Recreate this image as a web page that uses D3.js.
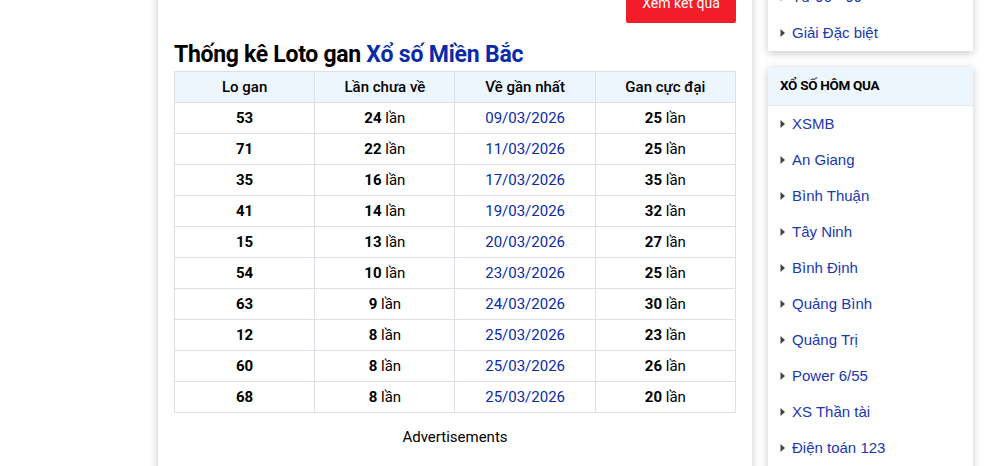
<!DOCTYPE html>
<html lang="en">
<head>
<meta charset="utf-8">
<title>Thống kê Loto gan</title>
<script src="https://cdn.jsdelivr.net/npm/d3@7"></script>
<style>
  html, body { margin: 0; padding: 0; background: #fff; overflow: hidden; }
  text { font-family: Roboto, sans-serif; }
</style>
</head>
<body>
<script>
// table data
var headers = ["Lo gan", "Lần chưa về", "Về gần nhất", "Gan cực đại"];
var loGan = ["53", "71", "35", "41", "15", "54", "63", "12", "60", "68"];
var lanChuaVe = [24, 22, 16, 14, 13, 10, 9, 8, 8, 8];
var veGanNhat = ["09/03/2026", "11/03/2026", "17/03/2026", "19/03/2026", "20/03/2026",
                 "23/03/2026", "24/03/2026", "25/03/2026", "25/03/2026", "25/03/2026"];
var ganCucDai = [25, 25, 35, 32, 27, 25, 30, 23, 26, 20];

// sidebar data
var menuTop = ["Từ 90 - 99", "Giải Đặc biệt"];
var menuTitle = "XỔ SỐ HÔM QUA";
var menuLinks = ["XSMB", "An Giang", "Bình Thuận", "Tây Ninh", "Bình Định",
                 "Quảng Bình", "Quảng Trị", "Power 6/55", "XS Thần tài", "Điện toán 123"];

var width = 990, height = 466;
var blue = "#0a2aa8", linkBlue = "#1a38b0", line = "#dcdfe6";

var svg = d3.select("body").append("svg")
    .attr("width", width).attr("height", height)
    .style("display", "block");

var defs = svg.append("defs");
var shadow = defs.append("filter").attr("id", "shadow")
    .attr("x", "-10%").attr("y", "-10%").attr("width", "120%").attr("height", "120%");
shadow.append("feDropShadow").attr("dx", 0).attr("dy", 2).attr("stdDeviation", 4)
    .attr("flood-color", "#000").attr("flood-opacity", 0.22);

// white panels
function panel(x, y, w, h) {
    svg.append("rect").attr("x", x).attr("y", y).attr("width", w).attr("height", h)
        .attr("fill", "#fff").attr("filter", "url(#shadow)");
}
panel(158, -40, 594, 560);
panel(768, -60, 205, 111);
panel(768, 67, 205, 460);

// red button, cut off by the window top
svg.append("rect").attr("x", 626).attr("y", -20).attr("width", 110).attr("height", 43)
    .attr("rx", 2).attr("fill", "#f31d2a");
svg.append("text").attr("x", 681).attr("y", 8).attr("text-anchor", "middle")
    .attr("font-size", 14).attr("fill", "#fff").text("Xem kết quả");

// title
var title = svg.append("text").attr("x", 174).attr("y", 62)
    .attr("font-size", 23).attr("font-weight", 700).attr("fill", "#000");
title.append("tspan").attr("letter-spacing", "-0.3px").text("Thống kê Loto gan ");
title.append("tspan").attr("fill", blue).attr("letter-spacing", "-0.2px").text("Xổ số Miền Bắc");

// table
var x = d3.scaleBand().domain(d3.range(headers.length)).range([174.5, 735.5]);
var y = d3.scaleBand().domain(d3.range(loGan.length + 1)).range([71.5, 412.5]);

svg.append("rect").attr("x", x(0)).attr("y", y(0))
    .attr("width", x.range()[1] - x.range()[0]).attr("height", y.bandwidth())
    .attr("fill", "#eef6fd");

svg.selectAll(".hline").data(d3.range(loGan.length + 2)).enter().append("line")
    .attr("x1", x.range()[0]).attr("x2", x.range()[1])
    .attr("y1", function (d) { return y.range()[0] + d * y.step(); })
    .attr("y2", function (d) { return y.range()[0] + d * y.step(); })
    .attr("stroke", line);
// snap the column rules to whole pixels
function colEdge(d) { return Math.round(x.range()[0] + d * x.step() - 0.6) + 0.5; }
svg.selectAll(".vline").data(d3.range(headers.length + 1)).enter().append("line")
    .attr("x1", colEdge)
    .attr("x2", colEdge)
    .attr("y1", y.range()[0]).attr("y2", y.range()[1])
    .attr("stroke", line);

function cx(i) { return x(i) + x.bandwidth() / 2; }
function cy(i) { return y(i) + y.bandwidth() / 2 + 5; }

svg.selectAll(".head").data(headers).enter().append("text")
    .attr("x", function (d, i) { return cx(i); })
    .attr("y", cy(0))
    .attr("text-anchor", "middle").attr("font-size", 15).attr("font-weight", 500)
    .attr("fill", "#000")
    .text(function (d) { return d; });

// first column
svg.selectAll(".lo").data(loGan).enter().append("text")
    .attr("x", cx(0))
    .attr("y", function (d, i) { return cy(i + 1); })
    .attr("text-anchor", "middle").attr("font-size", 15).attr("font-weight", 700)
    .text(function (d) { return d; });

// "N lần" columns
function countColumn(values, col) {
    var t = svg.selectAll(".count" + col).data(values).enter().append("text")
        .attr("x", cx(col))
        .attr("y", function (d, i) { return cy(i + 1); })
        .attr("text-anchor", "middle").attr("font-size", 15);
    t.append("tspan").attr("font-weight", 700).text(function (d) { return d; });
    t.append("tspan").text(" lần");
}
countColumn(lanChuaVe, 1);
countColumn(ganCucDai, 3);

svg.selectAll(".date").data(veGanNhat).enter().append("text")
    .attr("x", cx(2))
    .attr("y", function (d, i) { return cy(i + 1); })
    .attr("text-anchor", "middle").attr("font-size", 15).attr("fill", blue)
    .text(function (d) { return d; });

svg.append("text").attr("x", 455).attr("y", 442).attr("text-anchor", "middle")
    .attr("font-size", 15).attr("fill", "#000").text("Advertisements");

// sidebar
function menuItem(label, yPos) {
    svg.append("path")
        .attr("d", "M780.5," + (yPos - 4) + "L785," + yPos + "L780.5," + (yPos + 4) + "Z")
        .attr("fill", "#444");
    svg.append("text").attr("x", 792).attr("y", yPos + 5)
        .style("font-family", "'Liberation Sans', Arial, sans-serif")
        .attr("font-size", 15).attr("fill", linkBlue).text(label);
}
var topY = d3.scaleLinear().domain([0, 1]).range([-3, 33]);
menuTop.forEach(function (d, i) { menuItem(d, topY(i)); });

svg.append("rect").attr("x", 768).attr("y", 67).attr("width", 205).attr("height", 38)
    .attr("fill", "#eef6fd");
svg.append("line").attr("x1", 768).attr("x2", 973).attr("y1", 105.5).attr("y2", 105.5)
    .attr("stroke", "#e3e8ee");
svg.append("text").attr("x", 780).attr("y", 90)
    .attr("font-size", 13.5).attr("font-weight", 700).attr("letter-spacing", "-0.3px")
    .attr("fill", "#000").text(menuTitle);

var linkY = d3.scaleLinear().domain([0, 1]).range([124, 160]);
menuLinks.forEach(function (d, i) { menuItem(d, linkY(i)); });
</script>
</body>
</html>
